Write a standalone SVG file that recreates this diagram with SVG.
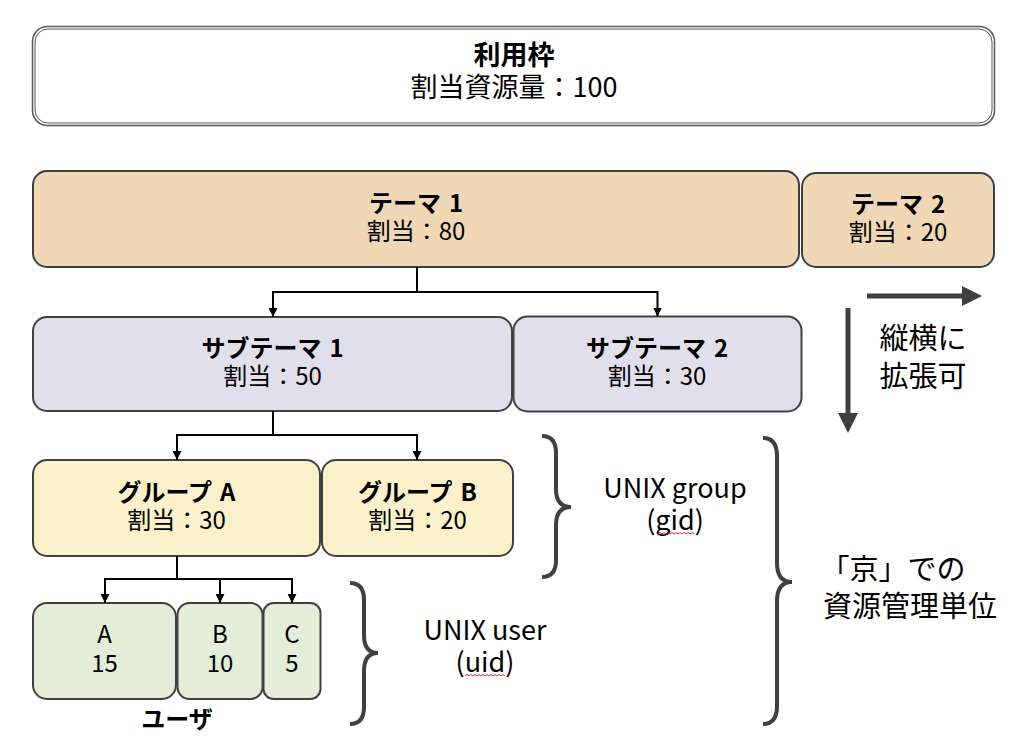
<svg xmlns="http://www.w3.org/2000/svg" width="1033" height="748" viewBox="0 0 1033 748">
<defs>
<style>
text{font-family:"Noto Sans CJK JP","Noto Sans",sans-serif;fill:#000;text-anchor:middle}
.b{font-weight:bold}
.t24{font-size:24px}
.t27{font-size:27px}
.t26{font-size:27px}
.t29{font-size:29px}
.box{stroke:#404040;stroke-width:2}
.theme{fill:#F0D7B6}
.sub{fill:#E2DFEC}
.grp{fill:#FAF1CB}
.usr{fill:#E3EED9}
.conn{fill:none;stroke:#000;stroke-width:2;marker-end:url(#ah)}
.brace{fill:none;stroke:#404040;stroke-width:4;stroke-linecap:butt}
.big{stroke:#404040;stroke-width:5;fill:none}
.sq{fill:none;stroke:#E03030;stroke-width:1}
</style>
<marker id="ah" markerUnits="userSpaceOnUse" markerWidth="9" markerHeight="9" refX="9" refY="4.5" orient="auto">
<path d="M0,0 L9,4.5 L0,9 z" fill="#000"/>
</marker>
</defs>
<rect width="1033" height="748" fill="#fff"/>

<g id="usage-frame">
<rect x="32.5" y="26.5" width="962" height="99" rx="15" fill="#fff" stroke="#595959" stroke-width="1.5"/>
<rect x="35" y="29" width="957" height="94" rx="13" fill="none" stroke="#595959" stroke-width="1"/>
<text class="t27" x="514" y="65"><tspan class="b" x="514">利用枠</tspan><tspan x="514" dy="32">割当資源量：100</tspan></text>
</g>

<g id="theme1">
<rect class="box theme" x="33" y="171" width="766" height="96" rx="14"/>
<text class="t24" x="416" y="212"><tspan class="b" x="416">テーマ&#8196;1</tspan><tspan x="416" dy="28">割当：80</tspan></text>
</g>
<g id="theme2">
<rect class="box theme" x="802" y="173" width="192" height="94" rx="14"/>
<text class="t24" x="898" y="213"><tspan class="b" x="898">テーマ&#8196;2</tspan><tspan x="898" dy="28">割当：20</tspan></text>
</g>

<g id="subtheme1">
<rect class="box sub" x="33" y="317" width="479" height="94" rx="14"/>
<text class="t24" x="272.5" y="357"><tspan class="b" x="272.5">サブテーマ&#8196;1</tspan><tspan x="272.5" dy="28">割当：50</tspan></text>
</g>
<g id="subtheme2">
<rect class="box sub" x="513.5" y="316.5" width="288" height="95" rx="14"/>
<text class="t24" x="657" y="357"><tspan class="b" x="657">サブテーマ&#8196;2</tspan><tspan x="657" dy="28">割当：30</tspan></text>
</g>

<g id="groupA">
<rect class="box grp" x="33" y="460" width="287" height="96" rx="14"/>
<text class="t24" x="176.5" y="501"><tspan class="b" x="176.5">グループ&#8196;A</tspan><tspan x="176.5" dy="28">割当：30</tspan></text>
</g>
<g id="groupB">
<rect class="box grp" x="322" y="460" width="191" height="96" rx="14"/>
<text class="t24" x="417.5" y="501"><tspan class="b" x="417.5">グループ&#8196;B</tspan><tspan x="417.5" dy="28">割当：20</tspan></text>
</g>

<g id="userA">
<rect class="box usr" x="33" y="603" width="143" height="96" rx="14"/>
<text class="t24" x="104.5" y="643"><tspan x="104.5">A</tspan><tspan x="104.5" dy="29">15</tspan></text>
</g>
<g id="userB">
<rect class="box usr" x="177.5" y="603" width="85" height="96" rx="12"/>
<text class="t24" x="220" y="643"><tspan x="220">B</tspan><tspan x="220" dy="29">10</tspan></text>
</g>
<g id="userC">
<rect class="box usr" x="263.5" y="603" width="57" height="96" rx="10"/>
<text class="t24" x="292" y="643"><tspan x="292">C</tspan><tspan x="292" dy="29">5</tspan></text>
</g>
<g id="users-label">
<text class="b t24" x="177" y="728">ユーザ</text>
</g>

<g id="connectors">
<path class="conn" d="M417,267 V292 H273 V317"/>
<path class="conn" d="M417,292 H657.5 V316.5"/>
<path class="conn" d="M273,411 V435 H177 V460"/>
<path class="conn" d="M273,435 H417 V460"/>
<path class="conn" d="M177,556 V579 H105 V603"/>
<path class="conn" d="M177,579 H220 V603"/>
<path class="conn" d="M177,579 H292 V603"/>
</g>

<g id="expand-arrows">
<path class="big" d="M867,296 H964"/>
<path d="M962,286 L982,296 L962,306 z" fill="#404040"/>
<path class="big" d="M848,308 V414"/>
<path d="M838,413 L848,433 L858,413 z" fill="#404040"/>
<text class="t29" x="923" y="349"><tspan x="923">縦横に</tspan><tspan x="923" dy="38">拡張可</tspan></text>
</g>

<g id="brace-group">
<path class="brace" d="M542,436 Q556,436 556,453 L556,489 Q556,507 571,507 Q556,507 556,525 L556,560 Q556,577 542,577"/>
<text class="t26" x="675" y="498"><tspan x="675">UNIX group</tspan><tspan x="675" dy="32">(gid)</tspan></text>
<path class="sq" d="M658,534 l2,-1.5 l2,1.5 l2,-1.5 l2,1.5 l2,-1.5 l2,1.5 l2,-1.5 l2,1.5 l2,-1.5 l2,1.5 l2,-1.5 l2,1.5 l2,-1.5 l2,1.5 l2,-1.5 l2,1.5 l2,-1.5 l2,1.5"/>
</g>

<g id="brace-user">
<path class="brace" d="M350,583 Q364,583 364,600 L364,635 Q364,653 378,653 Q364,653 364,671 L364,707 Q364,724 350,724"/>
<text class="t26" x="485" y="640"><tspan x="485">UNIX user</tspan><tspan x="485" dy="32">(uid)</tspan></text>
<path class="sq" d="M465,676 l2,-1.5 l2,1.5 l2,-1.5 l2,1.5 l2,-1.5 l2,1.5 l2,-1.5 l2,1.5 l2,-1.5 l2,1.5 l2,-1.5 l2,1.5 l2,-1.5 l2,1.5 l2,-1.5 l2,1.5 l2,-1.5 l2,1.5 l2,-1.5 l2,1.5"/>
</g>

<g id="brace-kyo">
<path class="brace" d="M763,438 Q777,438 777,456 L777,563 Q777,582 792,582 Q777,582 777,601 L777,706 Q777,724 763,724"/>
<text class="t29" x="893" y="580"><tspan x="893">「京」での</tspan><tspan x="910" dy="37">資源管理単位</tspan></text>
</g>
</svg>
